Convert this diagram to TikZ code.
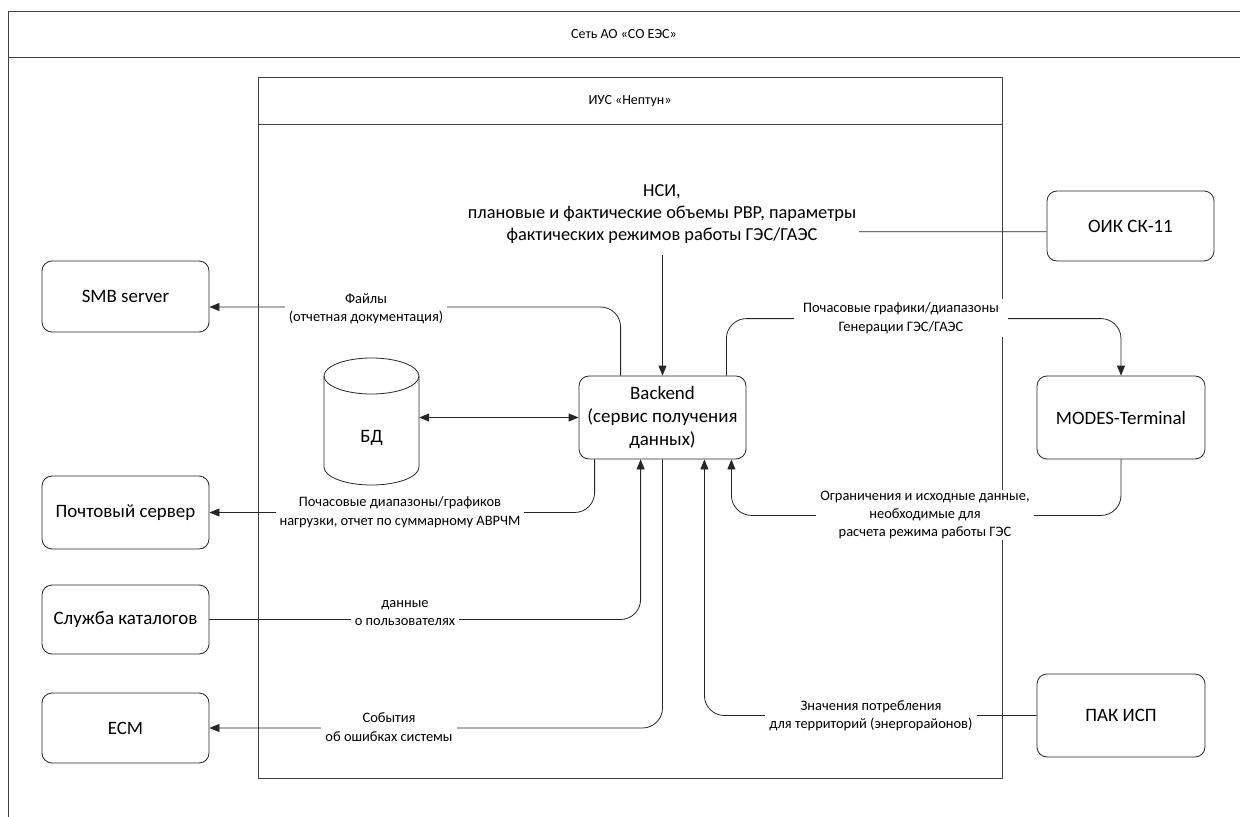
\documentclass[tikz,border=0pt]{standalone}
\usepackage{fontspec}
\setmainfont{Carlito}
\usetikzlibrary{arrows.meta,calc}
\begin{document}
\begin{tikzpicture}[x=1bp,y=-1bp,
  box/.style={draw=black!85, rounded corners=10bp, minimum width=167bp, font=\fontsize{19}{23.5}\selectfont, align=center, inner sep=0pt, line width=0.8bp},
  conn/.style={draw=black!85, line width=0.8bp, rounded corners=20bp},
  arr/.style={-{Triangle[length=10bp,width=8bp]}},
  dbl/.style={{Triangle[length=10bp,width=8bp]}-{Triangle[length=10bp,width=8bp]}},
  lbl/.style={fill=white, font=\fontsize{14.5}{18.5}\selectfont, align=center, inner xsep=4bp, inner ysep=1bp},
  bigl/.style={fill=white, font=\fontsize{18.4}{22}\selectfont, align=center, inner xsep=3bp, inner ysep=12bp},
  frame/.style={draw=black!75, line width=0.8bp},
  ttl/.style={font=\fontsize{14}{17}\selectfont}]
\useasboundingbox (0,0) rectangle (1240,817);

% outer frame
\draw[frame] (8,817) -- (8,11) -- (1240,11);
\draw[frame] (8,57) -- (1240,57);
\node[ttl] (tout) at (624,34) {Сеть АО «СО ЕЭС»};

% inner frame
\node[frame, minimum width=744bp, minimum height=701bp, inner sep=0pt] (ius) at (630,427.5) {};
\draw[frame] (258,124) -- (1002,124);
\node[ttl] (tius) at (630,101) {ИУС «Нептун»};

% nodes
\node[box, minimum height=71bp] (smb) at (125.5,296.5) {SMB server};
\node[box, minimum height=73bp] (mail) at (125.5,512.5) {Почтовый сервер};
\node[box, minimum height=69bp] (cat) at (125.5,619.5) {Служба каталогов};
\node[box, minimum height=70bp] (ecm) at (125.5,728) {ECM};
\node[box, minimum height=70bp] (oik) at (1130.5,226) {ОИК СК-11};
\node[box, minimum width=168bp, minimum height=83bp] (modes) at (1121,417.5) {MODES-Terminal};
\node[box, minimum width=168bp, minimum height=83bp] (pak) at (1121,715.5) {ПАК ИСП};
\node[box, minimum height=83bp] (be) at (662.5,417.5) {Backend\\(сервис получения\\данных)};

% database cylinder
\node[minimum width=95bp, minimum height=127bp, inner sep=0pt] (db) at (371.5,421.5) {};
\draw[draw=black!85, line width=0.8bp] (371.5,376) ellipse [x radius=47.5bp, y radius=18bp];
\draw[draw=black!85, line width=0.8bp] (324,376) -- (324,467) arc[start angle=180, end angle=360, x radius=47.5bp, y radius=18bp] -- (419,376);
\node[font=\fontsize{19}{22}\selectfont] (dbt) at (371.5,438) {БД};

% connectors
\draw[conn,arr] ([xshift=42bp]be.north west) |- ([yshift=-10.5bp]smb.east);
\draw[conn,arr] ([yshift=-5.7bp]oik.west) -| (be.north);
\draw[conn,arr] ([xshift=-20bp]be.north east) -- ++(0,-57) -| (modes.north);
\draw[conn,arr] (modes.south) -- ++(0,56) -| ([xshift=-15bp]be.south east);
\draw[conn,arr] ([xshift=16bp]be.south west) |- (mail.east);
\draw[conn,arr] (cat.east) -| ([xshift=62bp]be.south west);
\draw[conn,arr] (be.south) |- (ecm.east);
\draw[conn,arr] (pak.west) -| ([xshift=-42bp]be.south east);
\draw[conn,dbl] (be.west) -- (be.west -| db.east);

% labels
\node[lbl] (l1) at (366,309) {Файлы\\(отчетная документация)};
\node[bigl] (l2) at (662,214) {НСИ,\\плановые и фактические объемы РВР, параметры\\фактических режимов работы ГЭС/ГАЭС};
\node[lbl, inner xsep=9bp, inner ysep=4bp] (l3) at (901,318) {Почасовые графики/диапазоны\\Генерации ГЭС/ГАЭС};
\node[lbl] (l4) at (925,515) {Ограничения и исходные данные,\\необходимые для\\расчета режима работы ГЭС};
\node[lbl] (l5) at (400,512) {Почасовые диапазоны/графиков\\нагрузки, отчет по суммарному АВРЧМ};
\node[lbl] (l6) at (405,613) {данные\\о пользователях};
\node[lbl] (l7) at (389,727) {События\\об ошибках системы};
\node[lbl] (l8) at (871,716) {Значения потребления\\для территорий (энергорайонов)};
\end{tikzpicture}
\end{document}
